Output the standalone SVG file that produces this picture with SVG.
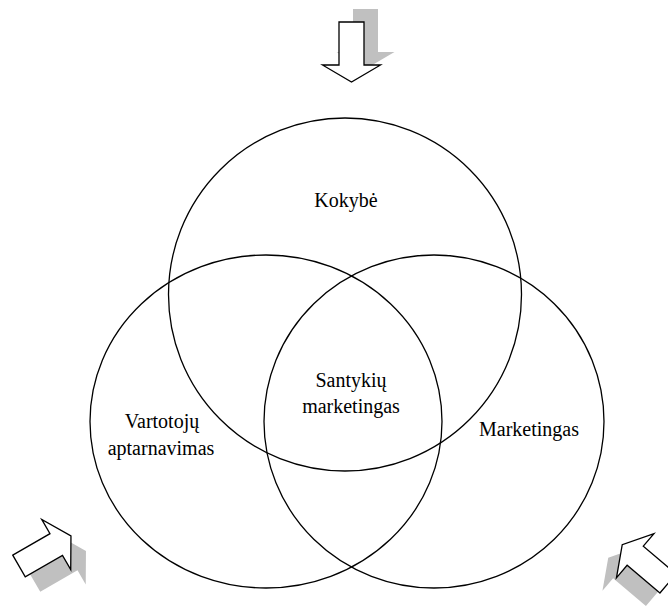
<svg xmlns="http://www.w3.org/2000/svg" width="668" height="607" viewBox="0 0 668 607">
<style>
.c{fill:none;stroke:#000;stroke-width:1.3}
.t{font-family:"Liberation Serif","Times New Roman",serif;font-size:20px;fill:#000;text-anchor:middle}
.ar{fill:#fff;stroke:#000;stroke-width:1.3;stroke-linejoin:miter}
.sh{fill:#c0c0c0;stroke:none}
</style>
<defs>
<path id="arr" d="M0,-12.5 L43,-12.5 L43,-29 L60,0 L43,29 L43,12.5 L0,12.5 Z"/>
</defs>
<rect width="668" height="607" fill="#fff"/>
<g id="arrow-top">
<use href="#arr" class="sh" transform="translate(365.5,9) rotate(90)"/>
<use href="#arr" class="ar" transform="translate(351.5,22) rotate(90)"/>
</g>
<g id="arrow-left">
<use href="#arr" class="sh" transform="translate(34,581) rotate(-30)"/>
<use href="#arr" class="ar" transform="translate(19,566) rotate(-30)"/>
</g>
<g id="arrow-right">
<use href="#arr" class="sh" transform="translate(654,596.5) rotate(220.3)"/>
<use href="#arr" class="ar" transform="translate(668,583.5) rotate(220.3)"/>
</g>
<g id="connectors"></g>
<g id="kokybe">
<ellipse class="c" cx="345" cy="294.5" rx="176.5" ry="176.5"/>
<text class="t" x="346" y="207">Kokybė</text>
</g>
<g id="vartotoju">
<ellipse class="c" cx="266" cy="421.5" rx="176" ry="166.5"/>
<text class="t" x="162" y="428">Vartotojų</text>
<text class="t" x="161" y="455">aptarnavimas</text>
</g>
<g id="marketingas">
<ellipse class="c" cx="434" cy="421.5" rx="170" ry="166.5"/>
<text class="t" x="529" y="436">Marketingas</text>
</g>
<g id="santykiu">
<text class="t" x="351" y="387">Santykių</text>
<text class="t" x="351" y="413">marketingas</text>
</g>
</svg>
